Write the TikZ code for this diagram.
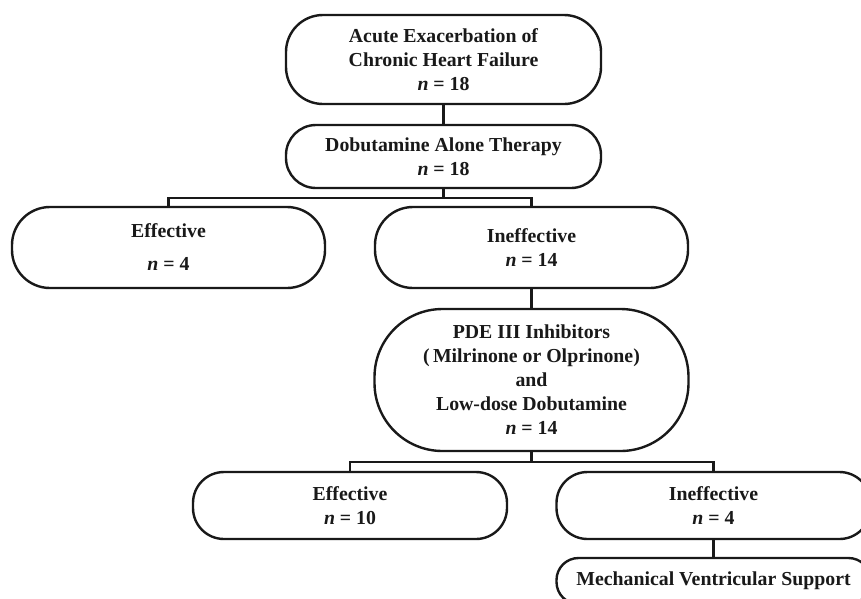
\documentclass[tikz,border=0pt]{standalone}
\usepackage{fontspec}
\setmainfont{Liberation Serif}
\begin{document}
\begin{tikzpicture}[x=1pt,y=-1pt,
  box/.style={draw=black!90, line width=2.4pt, fill=white, align=center, inner sep=0pt,
    font=\bfseries\fontsize{19.8}{24}\selectfont, text=black!90},
  link/.style={draw=black!90, line width=2.4pt}]
\useasboundingbox (0,0) rectangle (861,598);
\clip (0,0) rectangle (861,598);
\node[box, minimum width=315pt, minimum height=89pt, rounded corners=37pt] (n1) at (443.5,59.5)
  {Acute Exacerbation of\\Chronic Heart Failure\\\textit{n} = 18};
\node[box, minimum width=315pt, minimum height=63pt, rounded corners=30pt] (n2) at (443.5,156.5)
  {Dobutamine Alone Therapy\\\textit{n} = 18};
\node[box, minimum width=313pt, minimum height=81pt, rounded corners=38pt] (n3) at (168.5,247.5)
  {Effective\\[9pt]\textit{n} = 4};
\node[box, minimum width=313pt, minimum height=81pt, rounded corners=38pt] (n4) at (531.5,247.5)
  {Ineffective\\\textit{n} = 14};
\node[box, minimum width=314pt, minimum height=142pt, rounded corners=68pt] (n5) at (531.5,380)
  {PDE III Inhibitors\\(\,Milrinone or Olprinone)\\and\\Low-dose Dobutamine\\\textit{n} = 14};
\node[box, minimum width=314pt, minimum height=67pt, rounded corners=31pt] (n6) at (350,505.5)
  {Effective\\\textit{n} = 10};
\node[box, minimum width=314pt, minimum height=67pt, rounded corners=31pt] (n7) at (713.5,505.5)
  {Ineffective\\\textit{n} = 4};
\node[box, minimum width=314pt, minimum height=46pt, rounded corners=22pt] (n8) at (713.5,581)
  {Mechanical Ventricular Support};
\coordinate (j1) at (443.5,198);
\coordinate (j2) at (531.5,462);
\draw[link] (n1.south) -- (n2.north);
\draw[link] (n2.south) -- (j1);
\draw[link] (n3.north) |- (j1) -| (n4.north);
\draw[link] (n4.south) -- (n5.north);
\draw[link] (n5.south) -- (j2);
\draw[link] (n6.north) |- (j2) -| (n7.north);
\draw[link] (n7.south) -- (n8.north);
\end{tikzpicture}
\end{document}
